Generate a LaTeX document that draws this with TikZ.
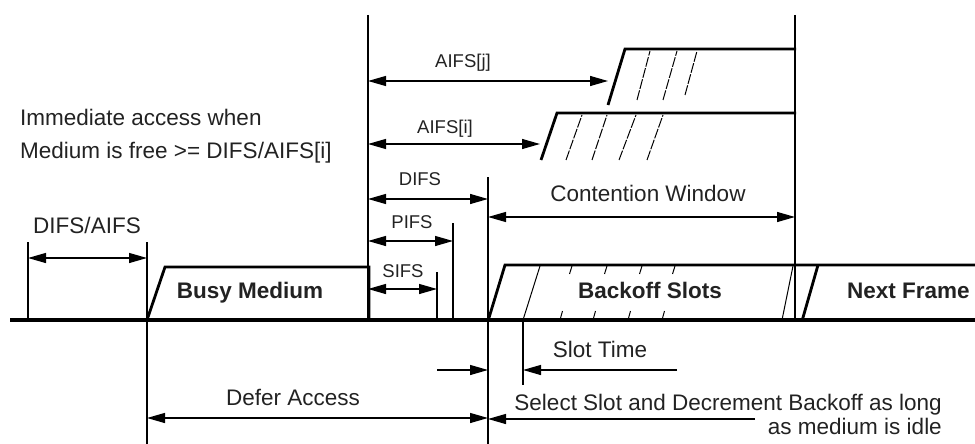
\documentclass[tikz,border=0pt]{standalone}
\usepackage{fontspec}
\setmainfont{Liberation Sans}
\usetikzlibrary{arrows.meta}
\definecolor{txt}{HTML}{222222}
\begin{document}
\begin{tikzpicture}[x=1pt,y=-1pt,
  hair/.style={line width=1.3pt},
  heavy/.style={line width=2.8pt,line join=miter},
  slotline/.style={line width=1pt},
  slotdash/.style={line width=1pt,dash pattern=on 10pt off 1.5pt},
  tipA/.tip={Triangle[length=18pt,width=10pt]},
  dim/.style={hair,tipA-tipA},
  oneway/.style={hair,-tipA},
  big/.style={font=\fontsize{22.5}{27}\selectfont,text=txt,inner sep=0pt},
  small/.style={font=\fontsize{18.5}{22}\selectfont,text=txt,inner sep=0pt},
  heavytext/.style={big,font=\fontsize{22.5}{27}\selectfont\bfseries}]
\useasboundingbox (0,0) rectangle (975,444);
% key coordinates
\coordinate (base0) at (10,320);
\coordinate (base1) at (975,320);
\coordinate (vA) at (368,15);   \coordinate (vAb) at (368,320);
\coordinate (vB) at (795,15);   \coordinate (vBb) at (795,320);
\coordinate (vC) at (488,177);  \coordinate (vCb) at (488,444);
\coordinate (vD) at (147,242);  \coordinate (vDb) at (147,444);
\coordinate (vE) at (28,242);   \coordinate (vEb) at (28,320);
\coordinate (vP) at (453,223);  \coordinate (vPb) at (453,320);
\coordinate (vS) at (437,272);  \coordinate (vSb) at (437,320);
\coordinate (vT) at (523,320);  \coordinate (vTb) at (523,385);
% medium line
\draw[line width=3.5pt] (base0) -- (base1);
% vertical reference lines
\draw[hair] (vA) -- (vAb);
\draw[hair] (vB) -- (vBb);
\draw[hair] (vC) -- (vCb);
\draw[hair] (vD) -- (vDb);
\draw[hair] (vE) -- (vEb);
\draw[hair] (vP) -- (vPb);
\draw[hair] (vS) -- (vSb);
\draw[hair] (vT) -- (vTb);
% frames
\draw[heavy] (147,320) -- (165,267) -- (369,267) -- (369,321);
\draw[heavy] (488,321) -- (505,265) -- (975,265);
\draw[heavy] (802,321) -- (818,265);
\draw[heavy] (608,105) -- (625,49) -- (796,49);
\draw[heavy] (541,160) -- (557,113) -- (796,113);
% slot marks
\foreach \a/\b in {637/650,663/677}
  \draw[slotdash] (\a,100) -- (\b,51);
\draw[slotdash] (685,95) -- (697,51);
\foreach \a/\b in {566/582,592/607,619/636,647/663}
  \draw[slotdash] (\a,160) -- (\b,115);
\draw[slotline] (523,320) -- (540,266);
\draw[slotline] (782,320) -- (793,266);
\foreach \x in {572,607,642,675}
  \draw[slotline] (\x,266) -- (\x-2.5,274);
\foreach \x in {560,593,628,662}
  \draw[slotline] (\x,320) -- (\x+2.5,311);
% dimension arrows
\coordinate (aj0) at (368,81);  \coordinate (aj1) at (608,81);
\coordinate (ai0) at (368,144); \coordinate (ai1) at (540,144);
\coordinate (d0) at (368,199);  \coordinate (d1) at (488,199);
\coordinate (p0) at (368,241);  \coordinate (p1) at (453,241);
\coordinate (s0) at (368,289);  \coordinate (s1) at (437,289);
\coordinate (cw0) at (488,217); \coordinate (cw1) at (795,217);
\coordinate (da0) at (28,258);  \coordinate (da1) at (147,258);
\coordinate (df0) at (147,418); \coordinate (df1) at (488,418);
\coordinate (st0) at (437,370); \coordinate (st1) at (488,370);
\coordinate (st2) at (677,370); \coordinate (st3) at (523,370);
\coordinate (sel0) at (755,419); \coordinate (sel1) at (488,419);
\draw[dim] (aj0) -- (aj1);
\draw[dim] (ai0) -- (ai1);
\draw[dim] (d0) -- (d1);
\draw[dim] (p0) -- (p1);
\draw[dim] (s0) -- (s1);
\draw[dim] (cw0) -- (cw1);
\draw[dim] (da0) -- (da1);
\draw[dim] (df0) -- (df1);
\draw[oneway] (st0) -- (st1);
\draw[oneway] (st2) -- (st3);
\draw[oneway] (sel0) -- (sel1);
% labels
\node[big,anchor=base west,align=left,font=\fontsize{22.5}{33}\selectfont] (imm) at (20,158)
  {Immediate access when\\Medium is free >= DIFS/AIFS[i]};
\node[small,anchor=base] (laj) at (463,68) {AIFS[j]};
\node[small,anchor=base] (lai) at (445,133) {AIFS[i]};
\node[small,anchor=base] (ld) at (420,185) {DIFS};
\node[small,anchor=base] (lp) at (412,228) {PIFS};
\node[small,anchor=base] (ls) at (403,277) {SIFS};
\node[big,anchor=base] (lcw) at (648,201) {Contention Window};
\node[big,anchor=base] (lda) at (87,233) {DIFS/AIFS};
\node[heavytext,anchor=base] (lbm) at (250,298) {Busy Medium};
\node[heavytext,anchor=base] (lbs) at (650,298) {Backoff Slots};
\node[heavytext,anchor=base west] (lnf) at (847,298) {Next Frame};
\node[big,anchor=base] (lst) at (600,357) {Slot Time};
\node[big,anchor=base] (ldf) at (293,405) {Defer Access};
\node[big,anchor=base east,align=right,font=\fontsize{22.5}{24}\selectfont] (lsel) at (942,434)
  {Select Slot and Decrement Backoff as long\\as medium is idle};
\end{tikzpicture}
\end{document}
